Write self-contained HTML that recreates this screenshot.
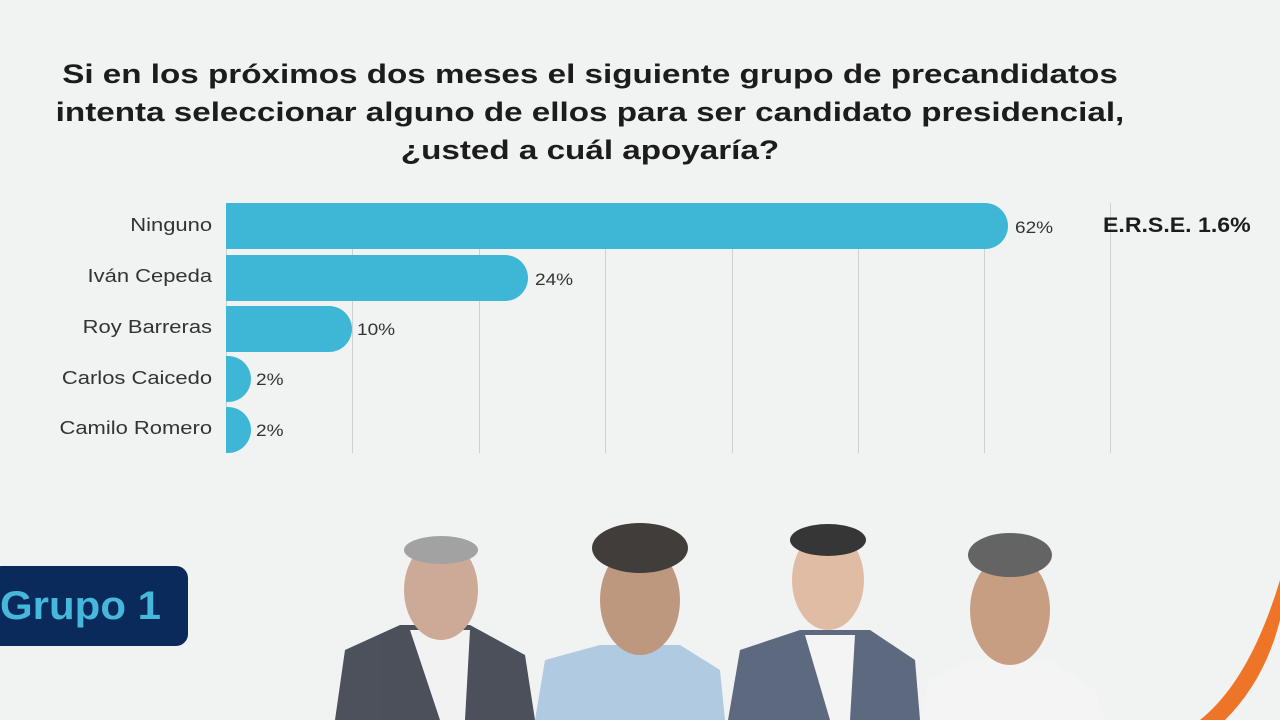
<!DOCTYPE html>
<html><head><meta charset="utf-8"><style>
body{margin:0;width:1280px;height:720px;background:#f1f2f2;font-family:"Liberation Sans",sans-serif;overflow:hidden;position:relative}
.t{position:absolute;left:0;width:1180px;text-align:center;font-weight:bold;font-size:27px;color:#1c1c1c;line-height:38px;top:55px;transform:scaleX(1.23);transform-origin:590px 0}
.g{position:absolute;top:203px;width:1px;height:250px;background:#cfd1d1}
.b{position:absolute;left:226px;height:46px;background:#3eb6d6;border-radius:0 23px 23px 0}
.l{position:absolute;right:1068px;font-size:18px;color:#333;text-align:right;white-space:nowrap;transform:scaleX(1.22);transform-origin:right}
.v{position:absolute;font-size:17px;color:#333;transform:scaleX(1.12);transform-origin:left}
</style></head><body>
<div class="t">Si en los próximos dos meses el siguiente grupo de precandidatos<br>intenta seleccionar alguno de ellos para ser candidato presidencial,<br>¿usted a cuál apoyaría?</div>
<div class="g" style="left:226px"></div><div class="g" style="left:352px"></div><div class="g" style="left:479px"></div><div class="g" style="left:605px"></div><div class="g" style="left:732px"></div><div class="g" style="left:858px"></div><div class="g" style="left:984px"></div><div class="g" style="left:1110px"></div>
<div class="b" style="top:203px;width:782px"></div>
<div class="b" style="top:255px;width:302px"></div>
<div class="b" style="top:306px;width:126px"></div>
<div class="b" style="top:356px;width:25px"></div>
<div class="b" style="top:407px;width:25px"></div>
<div class="l" style="top:215px">Ninguno</div>
<div class="l" style="top:266px">Iván Cepeda</div>
<div class="l" style="top:317px">Roy Barreras</div>
<div class="l" style="top:368px">Carlos Caicedo</div>
<div class="l" style="top:418px">Camilo Romero</div>
<div class="v" style="left:1015px;top:218px">62%</div>
<div class="v" style="left:535px;top:270px">24%</div>
<div class="v" style="left:357px;top:320px">10%</div>
<div class="v" style="left:256px;top:370px">2%</div>
<div class="v" style="left:256px;top:421px">2%</div>
<div style="position:absolute;left:1103px;top:214px;font-weight:bold;font-size:21px;color:#1c1c1c;transform:scaleX(1.1);transform-origin:left">E.R.S.E. 1.6%</div>
<div style="position:absolute;left:-10px;top:566px;width:198px;height:80px;background:#0b2a5c;border-radius:12px"></div>
<div style="position:absolute;left:0;top:566px;color:#45b8dc;font-weight:bold;font-size:40px;line-height:80px;transform:scaleX(1.05);transform-origin:left">Grupo 1</div>
<svg style="position:absolute;left:0;top:0" width="1280" height="720">
<path d="M1280 580 Q1250 680 1200 720 L1225 720 Q1265 680 1280 620Z" fill="#ee7527"/>
<g opacity="0.9">
<path d="M335 720 L345 650 L400 625 L470 625 L525 655 L535 720Z" fill="#3a3f4a"/>
<path d="M410 630 L440 720 L465 720 L470 630Z" fill="#f3f3f3"/>
<ellipse cx="441" cy="590" rx="37" ry="50" fill="#c8a38e"/>
<ellipse cx="441" cy="550" rx="37" ry="14" fill="#9a9a9a"/>
<path d="M535 720 L545 660 L600 645 L680 645 L720 670 L725 720Z" fill="#a9c7e0"/>
<ellipse cx="640" cy="600" rx="40" ry="55" fill="#b98e73"/>
<ellipse cx="640" cy="548" rx="48" ry="25" fill="#2e2a28"/>
<path d="M728 720 L740 650 L800 630 L870 630 L915 660 L920 720Z" fill="#4e5b73"/>
<path d="M805 635 L830 720 L850 720 L855 635Z" fill="#f5f5f5"/>
<ellipse cx="828" cy="580" rx="36" ry="50" fill="#e0b79d"/>
<ellipse cx="828" cy="540" rx="38" ry="16" fill="#222"/>
<path d="M920 720 L930 680 L970 660 L1050 660 L1095 690 L1105 720Z" fill="#f5f5f5"/>
<ellipse cx="1010" cy="610" rx="40" ry="55" fill="#c49577"/>
<ellipse cx="1010" cy="555" rx="42" ry="22" fill="#555"/>
</g>
</svg>
</body></html>
